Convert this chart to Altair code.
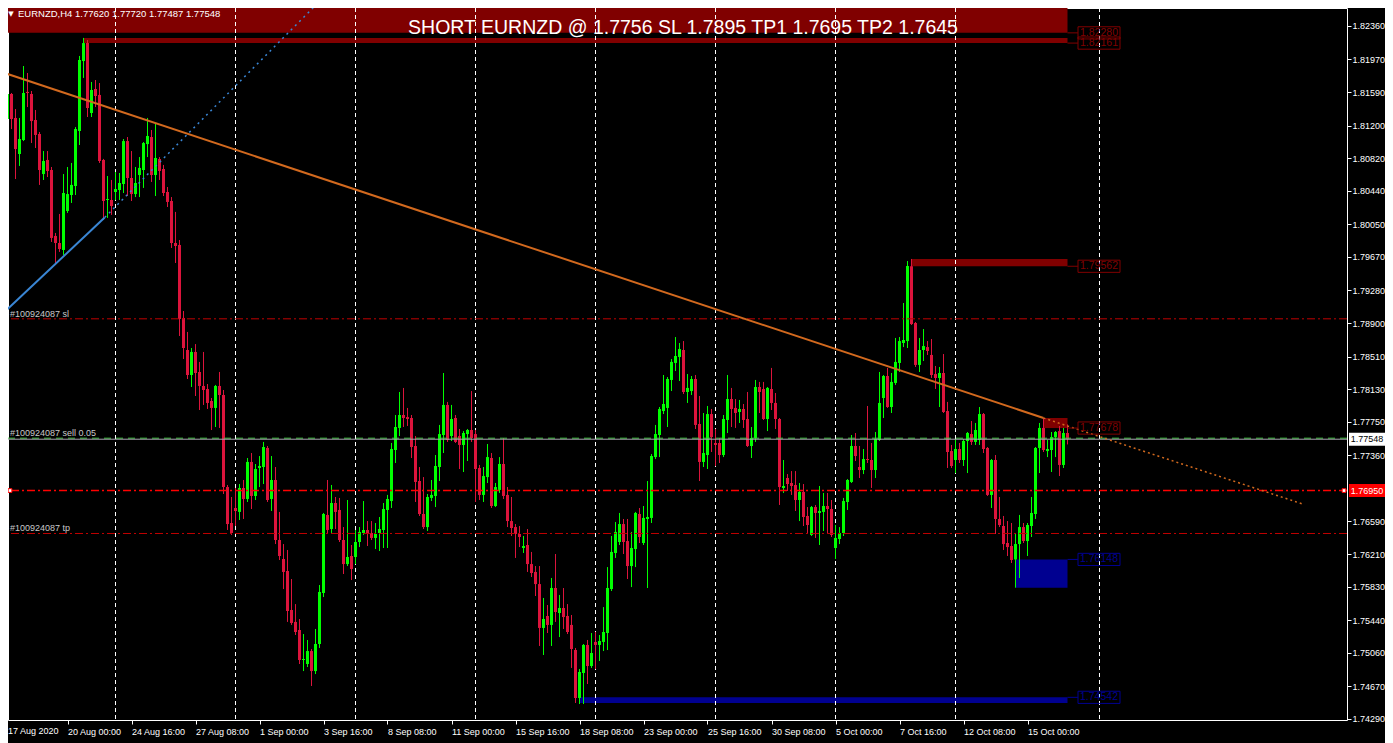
import json
import altair as alt
import pandas as pd

SYMBOL = "EURNZD,H4"
LAST_OHLC = [1.77620, 1.77720, 1.77487, 1.77548]
TITLE = "SHORT EURNZD @ 1.7756 SL 1.7895 TP1 1.7695 TP2 1.7645"

OPEN = [1.81557,1.81277,1.81568,1.81289,1.80869,1.81032,1.81592,1.81568,1.81265,1.81102,
1.80636,1.80800,1.80683,1.79915,1.79833,1.79752,1.80206,1.80392,1.80497,1.81137,
1.81952,1.82162,1.81347,1.81626,1.81557,1.80800,1.80334,1.80334,1.80427,1.80450,
1.80520,1.81020,1.80590,1.80403,1.80625,1.80683,1.80985,1.81067,1.80625,1.80811,
1.80695,1.80427,1.80322,1.79833,1.79810,1.78960,1.78587,1.78296,1.78564,1.78331,
1.78168,1.78133,1.77993,1.77912,1.78168,1.78063,1.76991,1.76572,1.76747,1.76701,
1.76980,1.76852,1.77283,1.76887,1.77213,1.77224,1.77446,1.76852,1.77073,1.76374,
1.76153,1.76013,1.75559,1.75420,1.75326,1.74977,1.74930,1.75081,1.74848,1.75163,
1.75757,1.76666,1.76502,1.76805,1.76724,1.76374,1.76094,1.76188,1.76176,1.76351,
1.76456,1.76491,1.76456,1.76398,1.76456,1.76491,1.76724,1.76828,1.77422,1.77679,
1.77830,1.77806,1.77795,1.77469,1.77061,1.76677,1.76525,1.76864,1.76887,1.77224,
1.77597,1.77947,1.77585,1.77795,1.77585,1.77481,1.77608,1.77655,1.77608,1.77213,
1.76899,1.77107,1.77329,1.76770,1.76957,1.77259,1.76899,1.76595,1.76525,1.76444,
1.76281,1.76316,1.76094,1.76002,1.75861,1.75350,1.75489,1.75385,1.75815,1.75524,
1.75582,1.75489,1.75385,1.75093,1.74534,1.74825,1.75152,1.74907,1.75187,1.75152,
1.75187,1.75291,1.75803,1.76223,1.76351,1.76560,1.76362,1.76071,1.76269,1.76677,
1.76339,1.76619,1.76631,1.77340,1.77597,1.77876,1.77912,1.78238,1.78436,1.78505,
1.78587,1.78098,1.78109,1.78249,1.77725,1.77283,1.77364,1.77841,1.77504,1.77504,
1.77364,1.77772,1.78016,1.77912,1.77865,1.77900,1.77783,1.77469,1.77562,1.78156,
1.78133,1.77783,1.78133,1.77970,1.77783,1.76980,1.77096,1.77038,1.77015,1.76840,
1.76934,1.76654,1.76433,1.76758,1.76689,1.76701,1.76770,1.76735,1.76281,1.76386,
1.76456,1.76817,1.77050,1.77469,1.77224,1.77189,1.77317,1.77306,1.77189,1.77539,
1.78028,1.78284,1.77923,1.78203,1.78436,1.78668,1.78691,1.79562,1.78901,1.78413,
1.78587,1.78621,1.78529,1.78307,1.78261,1.78319,1.77876,1.77410,1.77306,1.77434,
1.77306,1.77527,1.77608,1.77516,1.77539,1.77841,1.77446,1.76899,1.77306,1.76619,
1.76537,1.76339,1.76304,1.76148,1.76327,1.76525,1.76362,1.76537,1.76677,1.77446,
1.77679,1.77410,1.77422,1.77573,1.77643,1.77248,1.77620]

HIGH = [1.81568,1.81801,1.81580,1.81393,1.81289,1.81894,1.81813,1.81603,1.81382,1.81126,
1.80904,1.80904,1.80718,1.79950,1.80171,1.80636,1.80718,1.80765,1.81183,1.82011,
1.82221,1.82197,1.81708,1.81731,1.81696,1.80812,1.80613,1.80567,1.80660,1.80648,
1.81044,1.81067,1.80904,1.80718,1.80834,1.81009,1.81289,1.81149,1.81230,1.80834,
1.80742,1.80485,1.80368,1.80195,1.79868,1.79041,1.78797,1.78610,1.78656,1.78448,
1.78564,1.78191,1.78028,1.78180,1.78331,1.78121,1.77015,1.76875,1.76980,1.77026,
1.77073,1.77329,1.77387,1.77259,1.77352,1.77516,1.77469,1.77352,1.77224,1.76701,
1.76327,1.76258,1.75920,1.75628,1.75454,1.75279,1.75210,1.75105,1.75338,1.75850,
1.76689,1.77073,1.77015,1.76875,1.76864,1.76525,1.76840,1.76316,1.76491,1.76525,
1.76828,1.76595,1.76595,1.76572,1.76642,1.76805,1.76899,1.77504,1.77830,1.78098,
1.78145,1.77912,1.77830,1.77585,1.77224,1.77107,1.76910,1.77073,1.77364,1.77714,
1.78319,1.77982,1.77947,1.77830,1.77667,1.77643,1.77667,1.78109,1.77655,1.77248,
1.77224,1.77492,1.77387,1.77038,1.77340,1.77562,1.76991,1.76875,1.76560,1.76537,
1.76421,1.76502,1.76235,1.76071,1.76071,1.75699,1.75617,1.75932,1.76211,1.75734,
1.75815,1.75628,1.75501,1.75117,1.74872,1.75163,1.75210,1.75291,1.75303,1.75268,
1.75593,1.76059,1.76421,1.76584,1.76689,1.76619,1.76619,1.76468,1.76701,1.76747,
1.76770,1.77061,1.77375,1.77714,1.77923,1.78296,1.78272,1.78482,1.78738,1.78668,
1.78691,1.78307,1.78284,1.78296,1.78051,1.77853,1.77935,1.77900,1.77667,1.77562,
1.77830,1.78296,1.78145,1.78016,1.78005,1.77958,1.78098,1.77690,1.78238,1.78215,
1.78215,1.78156,1.78378,1.78086,1.77795,1.77306,1.77142,1.77177,1.77177,1.77038,
1.77026,1.76758,1.76770,1.76782,1.77003,1.76922,1.76922,1.76840,1.76549,1.76525,
1.76864,1.77084,1.77597,1.77620,1.77469,1.77434,1.77935,1.77504,1.77632,1.78331,
1.78296,1.78378,1.78319,1.78727,1.78738,1.79134,1.79623,1.79647,1.78913,1.78727,
1.78831,1.78691,1.78715,1.78401,1.78389,1.78540,1.77982,1.77481,1.77550,1.77504,
1.77550,1.77632,1.77760,1.77737,1.77923,1.77853,1.77457,1.77317,1.77364,1.76875,
1.76654,1.76595,1.76572,1.76456,1.76666,1.76572,1.76572,1.76875,1.77457,1.77737,
1.77795,1.77539,1.77632,1.77643,1.77702,1.77679,1.77720]

LOW = [1.81126,1.81242,1.81160,1.80578,1.80730,1.81020,1.81416,1.80997,1.80939,1.80509,
1.80567,1.80601,1.79845,1.79600,1.79729,1.79694,1.80183,1.80299,1.80392,1.80974,
1.81755,1.81300,1.81300,1.81416,1.80765,1.80101,1.80125,1.80160,1.80334,1.80334,
1.80415,1.80380,1.80322,1.80368,1.80368,1.80474,1.80834,1.80544,1.80380,1.80567,
1.80380,1.80252,1.79775,1.79600,1.78750,1.78482,1.78249,1.78156,1.78051,1.77888,
1.77947,1.77900,1.77655,1.77690,1.77679,1.76910,1.76491,1.76433,1.76537,1.76607,
1.76619,1.76817,1.76735,1.76840,1.76991,1.77026,1.76817,1.76712,1.76327,1.76141,
1.75803,1.75420,1.75385,1.75268,1.74930,1.74848,1.74895,1.74674,1.74813,1.75117,
1.75710,1.76456,1.76456,1.76502,1.76351,1.75978,1.76071,1.75908,1.76094,1.76292,
1.76433,1.76304,1.76374,1.76269,1.76246,1.76281,1.76281,1.76747,1.77271,1.77585,
1.77690,1.77702,1.77329,1.76817,1.76654,1.76502,1.76479,1.76828,1.76758,1.77061,
1.77387,1.77516,1.77527,1.77504,1.77201,1.77166,1.77294,1.77516,1.76817,1.76840,
1.76817,1.77038,1.76747,1.76758,1.76922,1.76852,1.76525,1.76421,1.76165,1.76292,
1.76223,1.76002,1.75943,1.75722,1.75140,1.75035,1.75291,1.75140,1.75420,1.75244,
1.75338,1.75279,1.74884,1.74476,1.74464,1.74464,1.74697,1.74884,1.74872,1.74965,
1.75081,1.75093,1.75780,1.76165,1.76316,1.76211,1.75920,1.75826,1.76059,1.76339,
1.76316,1.75815,1.76572,1.77317,1.77340,1.77841,1.77690,1.78109,1.78342,1.78226,
1.78074,1.77970,1.78063,1.77667,1.77061,1.77224,1.77201,1.77399,1.77236,1.77271,
1.77340,1.77620,1.77690,1.77679,1.77737,1.77679,1.77457,1.77329,1.77516,1.77853,
1.77772,1.77643,1.77888,1.77667,1.76782,1.76922,1.76945,1.76899,1.76712,1.76595,
1.76537,1.76456,1.76421,1.76398,1.76316,1.76479,1.76456,1.76409,1.76153,1.76327,
1.76421,1.76724,1.77038,1.77294,1.77096,1.77142,1.77271,1.76980,1.77096,1.77527,
1.77795,1.77912,1.77853,1.78180,1.78331,1.78621,1.78610,1.78878,1.78389,1.78331,
1.78459,1.78529,1.78261,1.78133,1.77923,1.77853,1.77213,1.77213,1.77154,1.77271,
1.77236,1.77154,1.77481,1.77481,1.77481,1.77387,1.76887,1.76747,1.76444,1.76525,
1.76258,1.76188,1.76106,1.75819,1.75932,1.76339,1.76188,1.76409,1.76619,1.77154,
1.77399,1.77340,1.77166,1.77340,1.77119,1.77213,1.77487]

CLOSE = [1.81289,1.81568,1.81277,1.80927,1.81044,1.81580,1.81580,1.81253,1.81091,1.80683,
1.80788,1.80671,1.79892,1.79833,1.79763,1.80415,1.80403,1.80509,1.81160,1.81964,
1.82161,1.81405,1.81615,1.81545,1.80788,1.80322,1.80345,1.80264,1.80462,1.80532,
1.81020,1.80590,1.80403,1.80532,1.80707,1.80997,1.81079,1.80625,1.80823,1.80671,
1.80415,1.80311,1.79833,1.79798,1.78948,1.78610,1.78296,1.78564,1.78319,1.78168,
1.78121,1.77970,1.77912,1.78168,1.78063,1.76991,1.76560,1.76456,1.76712,1.76980,
1.76852,1.77283,1.76887,1.77201,1.77236,1.77457,1.76840,1.77073,1.76374,1.76188,
1.76002,1.75547,1.75408,1.75303,1.74977,1.74988,1.75081,1.74848,1.75163,1.75769,
1.76677,1.76491,1.76805,1.76701,1.76374,1.76094,1.76176,1.76036,1.76351,1.76468,
1.76491,1.76444,1.76398,1.76444,1.76502,1.76735,1.76852,1.77434,1.77690,1.77830,
1.77795,1.77783,1.77457,1.77050,1.76677,1.76525,1.76875,1.76899,1.77236,1.77608,
1.77947,1.77539,1.77783,1.77516,1.77481,1.77620,1.77655,1.77562,1.77201,1.76899,
1.77119,1.77340,1.76770,1.76991,1.77259,1.76887,1.76595,1.76514,1.76444,1.76409,
1.76304,1.76094,1.75990,1.75861,1.75350,1.75454,1.75385,1.75815,1.75536,1.75582,
1.75477,1.75303,1.75105,1.74534,1.74837,1.75152,1.74907,1.75058,1.75152,1.75198,
1.75303,1.75815,1.76235,1.76468,1.76560,1.76351,1.76071,1.76281,1.76689,1.76409,
1.76631,1.76642,1.77352,1.77608,1.77900,1.77958,1.78249,1.78448,1.78517,1.78598,
1.78098,1.78145,1.78249,1.77714,1.77283,1.77387,1.77841,1.77573,1.77481,1.77364,
1.77783,1.78016,1.77900,1.77853,1.77900,1.77772,1.77469,1.77562,1.78156,1.78098,
1.77783,1.78145,1.77970,1.77783,1.76991,1.77003,1.77026,1.77003,1.76840,1.76934,
1.76642,1.76549,1.76758,1.76689,1.76712,1.76770,1.76735,1.76433,1.76398,1.76456,
1.76828,1.77073,1.77469,1.77352,1.77189,1.77317,1.77306,1.77189,1.77550,1.77970,
1.78284,1.77923,1.78215,1.78448,1.78691,1.78703,1.79565,1.78889,1.78413,1.78587,
1.78633,1.78575,1.78296,1.78261,1.78319,1.77865,1.77399,1.77236,1.77434,1.77306,
1.77527,1.77620,1.77516,1.77655,1.77841,1.77434,1.76899,1.77306,1.76619,1.76549,
1.76327,1.76292,1.76141,1.76327,1.76525,1.76362,1.76549,1.76689,1.77446,1.77679,
1.77422,1.77434,1.77573,1.77632,1.77248,1.77620,1.77548]

TIME_BARS = [0, 16, 32, 48, 64, 80, 96, 112, 128, 144, 160, 176, 192, 208, 224, 240, 256]
TIME_LABELS = ["17 Aug 2020", "20 Aug 00:00", "24 Aug 16:00", "27 Aug 08:00", "1 Sep 00:00",
               "3 Sep 16:00", "8 Sep 08:00", "11 Sep 00:00", "15 Sep 16:00", "18 Sep 08:00",
               "23 Sep 00:00", "25 Sep 16:00", "30 Sep 08:00", "5 Oct 00:00", "7 Oct 16:00",
               "12 Oct 08:00", "15 Oct 00:00"]
PRICE_TICKS = [1.82360, 1.81970, 1.81590, 1.81200, 1.80820, 1.80440, 1.80050, 1.79670,
               1.79280, 1.78900, 1.78510, 1.78130, 1.77750, 1.77360, 1.76590, 1.76210,
               1.75830, 1.75440, 1.75060, 1.74670, 1.74290]
WEEK_SEPARATORS = [28, 58, 88, 118, 148, 178, 208, 238, 274]

SUPPLY_FROM = [0, 20, 227, 260]
SUPPLY_TO = [266, 266, 266, 266]
SUPPLY_LOW = [1.82280, 1.82161, 1.79562, 1.77678]
SUPPLY_HIGH = [1.82570, 1.82221, 1.79647, 1.77795]
DEMAND_FROM = [253, 144]
DEMAND_TO = [266, 266]
DEMAND_LOW = [1.75819, 1.74476]
DEMAND_HIGH = [1.76148, 1.74542]

ORDER_PRICES = [1.7895, 1.7756, 1.7645]
ORDER_NAMES = ["#100924087 sl", "#100924087 sell 0.05", "#100924087 tp"]
ALERT_PRICE = 1.76950
BID = 1.77548

TREND_I = [1, 260]
TREND_P = [1.81801, 1.77795]
TREND_EXT_I = [260, 325]
TREND_EXT_P = [1.77795, 1.76790]
SUPPORT_I = [0, 25.3]
SUPPORT_P = [1.79018, 1.80130]
SUPPORT_EXT_I = [25.3, 78.0]
SUPPORT_EXT_P = [1.80130, 1.82600]

# ---------------- layout / style ----------------
FONT = "Liberation Sans"
PLOT_W, PLOT_H = 1339, 712
X_DOMAIN = [1.125, 335.875]
Y_DOMAIN = [1.74278, 1.825696]
PX = (Y_DOMAIN[1] - Y_DOMAIN[0]) / PLOT_H
UP_COL, DN_COL = "#00ff00", "#dc143c"
SUPPLY_COL, DEMAND_COL = "#800000", "#000090"
BOX = "M-1,-0.29H1V0.29H-1Z"
AXBOX = "M-1,-0.36H1V0.36H-1Z"

xs = alt.Scale(domain=X_DOMAIN, nice=False, zero=False)
ys = alt.Scale(domain=Y_DOMAIN, nice=False, zero=False)

label_expr = "{}[indexof({}, datum.value)]".format(json.dumps(TIME_LABELS), json.dumps(TIME_BARS))
x_axis = alt.Axis(values=TIME_BARS, labelExpr=label_expr, labelAlign="left", labelBaseline="top",
                  labelPadding=3, labelFlush=False, labelOverlap=False, labelColor="white",
                  labelFont=FONT, labelFontSize=9, tickColor="white", tickSize=4, domain=False,
                  grid=False, title=None, orient="bottom", labelBound=False)
y_axis = alt.Axis(values=PRICE_TICKS, format=".5f", orient="right", labelColor="white",
                  labelFont=FONT, labelFontSize=9, labelPadding=1, tickColor="white", tickSize=4,
                  domain=False, grid=False, title=None, labelOverlap=False, labelFlush=False,
                  labelBound=False)


def X(f):
    return alt.X(f, type="quantitative", scale=xs, axis=x_axis)


def Y(f):
    return alt.Y(f, type="quantitative", scale=ys, axis=y_axis)


df = pd.DataFrame({"i": list(range(len(OPEN))), "o": OPEN, "h": HIGH, "l": LOW, "c": CLOSE})
df["blo"] = df[["o", "c"]].min(axis=1)
df["bhi"] = df[["o", "c"]].max(axis=1)
df["bhi"] = df["bhi"].where(df["bhi"] - df["blo"] >= PX, df["blo"] + PX)
df["x1"] = df["i"] - 0.375
df["x2"] = df["i"] + 0.375
up = df[df["c"] >= df["o"]]
dn = df[df["c"] < df["o"]]

layers = []

# zones and week separators behind the candles
sup = pd.DataFrame({"a": SUPPLY_FROM, "b": SUPPLY_TO, "lo": SUPPLY_LOW, "hi": SUPPLY_HIGH})
dem = pd.DataFrame({"a": DEMAND_FROM, "b": DEMAND_TO, "lo": DEMAND_LOW, "hi": DEMAND_HIGH})
for d, col in [(sup, SUPPLY_COL), (dem, DEMAND_COL)]:
    layers.append(alt.Chart(d).mark_rect(color=col, clip=True).encode(
        x=X("a"), x2="b", y=Y("lo"), y2="hi"))

seps = pd.DataFrame({"i": WEEK_SEPARATORS})
layers.append(alt.Chart(seps).mark_rule(color="white", strokeDash=[4, 3], strokeWidth=1).encode(x=X("i")))

# candles
for d, col in [(up, UP_COL), (dn, DN_COL)]:
    layers.append(alt.Chart(d).mark_rule(color=col, strokeWidth=1, clip=True).encode(
        x=X("i"), y=Y("l"), y2="h"))
for d, col in [(up, UP_COL), (dn, DN_COL)]:
    layers.append(alt.Chart(d).mark_rect(color=col, clip=True).encode(
        x=X("x1"), x2="x2", y=Y("blo"), y2="bhi"))

# horizontal order / price lines
slt = pd.DataFrame({"p": [ORDER_PRICES[0], ORDER_PRICES[2]]})
layers.append(alt.Chart(slt).mark_rule(color="#c00000", strokeDash=[8, 3, 2, 3], strokeWidth=1).encode(y=Y("p")))
layers.append(alt.Chart(pd.DataFrame({"p": [ORDER_PRICES[1]]})).mark_rule(
    color="#3cc83c", strokeDash=[7, 5], strokeWidth=1).encode(y=Y("p")))
layers.append(alt.Chart(pd.DataFrame({"p": [ALERT_PRICE]})).mark_rule(
    color="#ff0000", strokeDash=[8, 3, 2, 3], strokeWidth=1.5).encode(y=Y("p")))
layers.append(alt.Chart(pd.DataFrame({"p": [BID]})).mark_rule(
    color="#a8a8b0", strokeWidth=1).encode(y=Y("p")))


def line(ii, pp, col, width, dash=None):
    kw = dict(color=col, strokeWidth=width, clip=True)
    if dash:
        kw["strokeDash"] = dash
    return alt.Chart(pd.DataFrame({"i": ii, "p": pp})).mark_line(**kw).encode(x=X("i"), y=Y("p"))


layers.append(line(TREND_I, TREND_P, "#d2691e", 2))
layers.append(line(TREND_EXT_I, TREND_EXT_P, "#d2691e", 1.5, [2, 3]))
layers.append(line(SUPPORT_I, SUPPORT_P, "#3a86d4", 2))
layers.append(line(SUPPORT_EXT_I, SUPPORT_EXT_P, "#3a86d4", 1.5, [2, 4]))

# zone price labels
LBL_X, CONN_X = 273.875, 268.6
lab = pd.DataFrame({
    "p": SUPPLY_LOW + DEMAND_HIGH,
    "kind": ["s"] * len(SUPPLY_LOW) + ["d"] * len(DEMAND_HIGH),
})
lab["t"] = lab["p"].map(lambda v: f"{v:.5f}")
lab["a"] = 266
lab["b"] = CONN_X
lab["cx"] = LBL_X
for kind, col in [("s", SUPPLY_COL), ("d", DEMAND_COL)]:
    d = lab[lab["kind"] == kind]
    layers.append(alt.Chart(d).mark_rule(color=col, strokeWidth=1).encode(x=X("a"), x2="b", y=Y("p")))
    layers.append(alt.Chart(d).mark_point(shape=BOX, size=1764, filled=False, opacity=1,
                                          color=col, strokeWidth=1).encode(x=X("cx"), y=Y("p")))
    layers.append(alt.Chart(d).mark_text(color=col, font=FONT, fontSize=10.5, align="center",
                                         baseline="middle").encode(x=X("cx"), y=Y("p"), text="t:N"))

# order labels on the left
od = pd.DataFrame({"p": ORDER_PRICES, "name": ORDER_NAMES})
layers.append(alt.Chart(od).mark_text(color="#c8c8c8", font=FONT, fontSize=9, align="left",
                                      baseline="alphabetic", dy=-2).encode(
    x=alt.value(2), y=Y("p"), text="name:N"))

# markers of the alert line
am = pd.DataFrame({"p": [ALERT_PRICE]})
for xv in [2, 1336]:
    layers.append(alt.Chart(am).mark_point(shape="square", size=14, filled=True, opacity=1,
                                           fill="white", stroke="#ff0000", strokeWidth=1).encode(
        x=alt.value(xv), y=Y("p")))

# price boxes on the right axis
for price, fill, tcol in [(BID, "white", "black"), (ALERT_PRICE, "#ff0000", "white")]:
    d = pd.DataFrame({"p": [price], "t": [f"{price:.5f}"]})
    layers.append(alt.Chart(d).mark_point(shape=AXBOX, size=1296, filled=True,
                                          opacity=1, fill=fill, strokeWidth=0, clip=False).encode(
        x=alt.value(1359), y=Y("p")))
    layers.append(alt.Chart(d).mark_text(color=tcol, font=FONT, fontSize=9, align="center",
                                         baseline="middle").encode(
        x=alt.value(1359), y=Y("p"), text="t:N"))

one = pd.DataFrame({"a": [0]})
# first time label (its bar lies at the very left edge of the window)
layers.append(alt.Chart(one).mark_text(text=TIME_LABELS[0], font=FONT, fontSize=9, color="white",
                                       align="left", baseline="top").encode(
    x=alt.value(0), y=alt.value(PLOT_H + 7)))
layers.append(alt.Chart(one).mark_text(text=TITLE, font=FONT, fontSize=19.5, color="white",
                                       align="center", baseline="middle").encode(
    x=alt.value(675), y=alt.value(20)))
layers.append(alt.Chart(one).mark_text(text="\u25bc", font="DejaVu Sans", fontSize=7, color="white",
                                       align="center", baseline="middle").encode(
    x=alt.value(3), y=alt.value(5.5)))
info = SYMBOL + "  " + " ".join(f"{v:.5f}" for v in LAST_OHLC)
layers.append(alt.Chart(one).mark_text(text=info, font=FONT, fontSize=9.5, color="white",
                                       align="left", baseline="middle").encode(
    x=alt.value(10), y=alt.value(6)))

chart = alt.layer(*layers).properties(
    width=PLOT_W, height=PLOT_H, background="#000000",
    padding={"left": 0, "top": 0, "right": 38, "bottom": 23},
    autosize=alt.AutoSizeParams(type="none"),
).configure_view(stroke="white", strokeWidth=1)

chart.save("out.html", embed_options={"renderer": "svg", "actions": False})
